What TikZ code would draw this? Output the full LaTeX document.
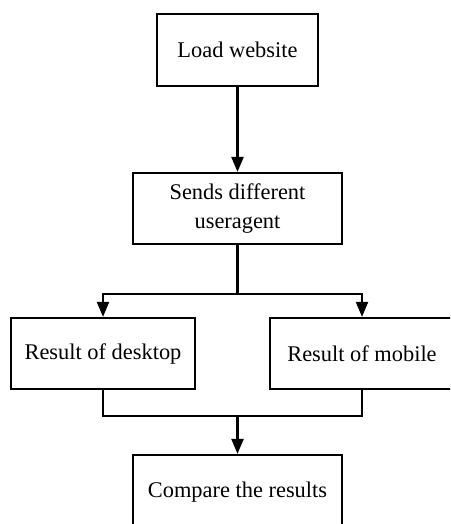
\documentclass[tikz,border=0pt]{standalone}
\usepackage{fontspec}
\setmainfont{Liberation Serif}
\usepackage{tikz}
\usetikzlibrary{arrows.meta, positioning}

\begin{document}
\begin{tikzpicture}[
    x=1pt, y=-1pt,
    every node/.style={font=\fontsize{22.4}{29}\selectfont},
    box/.style={draw, line width=2.2pt, align=center, minimum height=71pt, inner sep=0pt},
    link/.style={line width=2.2pt},
    arrow/.style={line width=2.2pt, -{Triangle[width=12pt, length=15pt]}}
]

\clip (0,0) rectangle (450,524);

\def\midx{237.5}

% Boxes
\node[box, minimum width=161pt, minimum height=72pt] (load) at (\midx, 50) {Load website};
\node[box, minimum width=209pt] (sends) at (\midx, 208.5) {Sends different\\useragent};
\node[box, minimum width=184pt] (desktop) at (103, 353.5) {Result of desktop};
\node[box, minimum width=184pt] (mobile) at (362, 353.5) {Result of mobile};
\node[box, minimum width=209pt, minimum height=74pt] (compare) at (\midx, 492) {Compare the results};

\coordinate (split) at (\midx, 294);
\coordinate (merge) at (\midx, 416);

% Connecting lines
\draw[arrow] (load) -- (sends);
\draw[link] (sends.south) -- (split);
\draw[arrow] (split) -| (desktop.north);
\draw[arrow] (split) -| (mobile.north);
\draw[link] (desktop.south) |- (merge) -| (mobile.south);
\draw[arrow] (merge) -- (compare.north);

\end{tikzpicture}
\end{document}
